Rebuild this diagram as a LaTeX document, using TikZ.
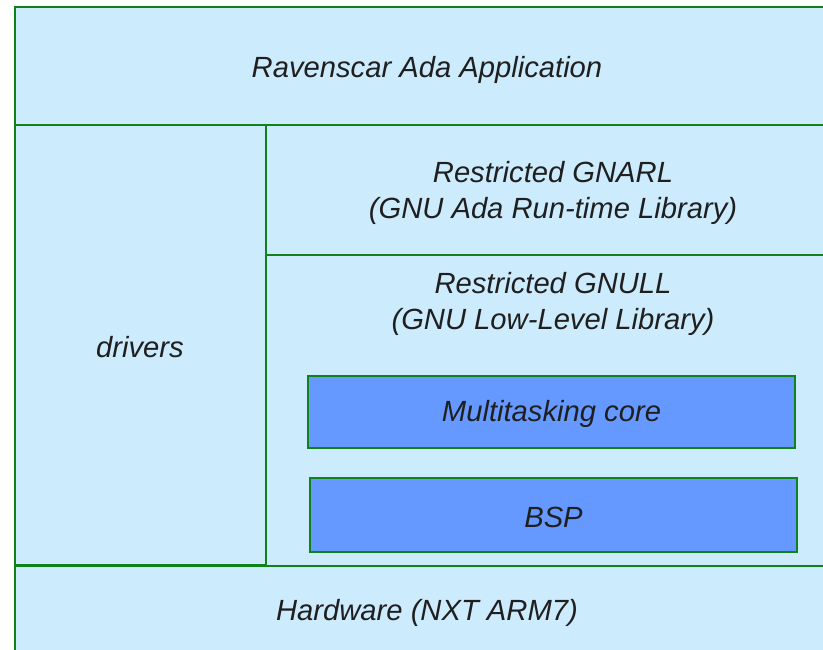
\documentclass[tikz,border=0pt]{standalone}
\usepackage{fontspec}
\setmainfont{Liberation Sans}
\definecolor{lgreen}{RGB}{15,130,25}
\definecolor{lblue}{RGB}{204,235,252}
\definecolor{cblue}{RGB}{102,153,255}
\begin{document}
\begin{tikzpicture}[x=1pt,y=-1pt,
  layer/.style={draw=lgreen, line width=2pt, fill=lblue, inner sep=0pt, outer sep=0pt, anchor=north west},
  core/.style={draw=lgreen, line width=2pt, fill=cblue, inner sep=0pt, outer sep=0pt, anchor=north west},
  lab/.style={font=\fontsize{29.2}{36}\selectfont\itshape, align=center, text=black!88, inner sep=0pt}]
\useasboundingbox (0,0) rectangle (823,650);
\fill[white] (0,0) rectangle (823,650);
\begin{scope}
\clip (0,0) rectangle (823,650);
\node[layer, minimum width=825pt, minimum height=118pt] (app) at (15,7) {};
\node[layer, minimum width=574pt, minimum height=130pt] (gnarl) at (266,125) {};
\node[layer, minimum width=574pt, minimum height=311pt] (gnull) at (266,255) {};
\node[layer, minimum width=251pt, minimum height=440pt] (drv) at (15,125) {};
\node[layer, minimum width=825pt, minimum height=94pt] (hw) at (15,566) {};
\node[core, minimum width=487pt, minimum height=72pt] (mt) at (308,376) {};
\node[core, minimum width=487pt, minimum height=74pt] (bsp) at (310,478) {};
\end{scope}
\node[lab] (tapp) at (427,70) {Ravenscar Ada Application};
\node[lab] (tgnarl) at (553,193) {Restricted GNARL\\(GNU Ada Run-time Library)};
\node[lab] (tgnull) at (553,304) {Restricted GNULL\\(GNU Low-Level Library)};
\node[lab] (tdrv) at (140,347) {drivers};
\node[lab] (tmt) at ([yshift=-2pt]mt.center) {Multitasking core};
\node[lab] (tbsp) at ([yshift=-2pt]bsp.center) {BSP};
\node[lab] (thw) at (427,613) {Hardware (NXT ARM7)};
\end{tikzpicture}
\end{document}
